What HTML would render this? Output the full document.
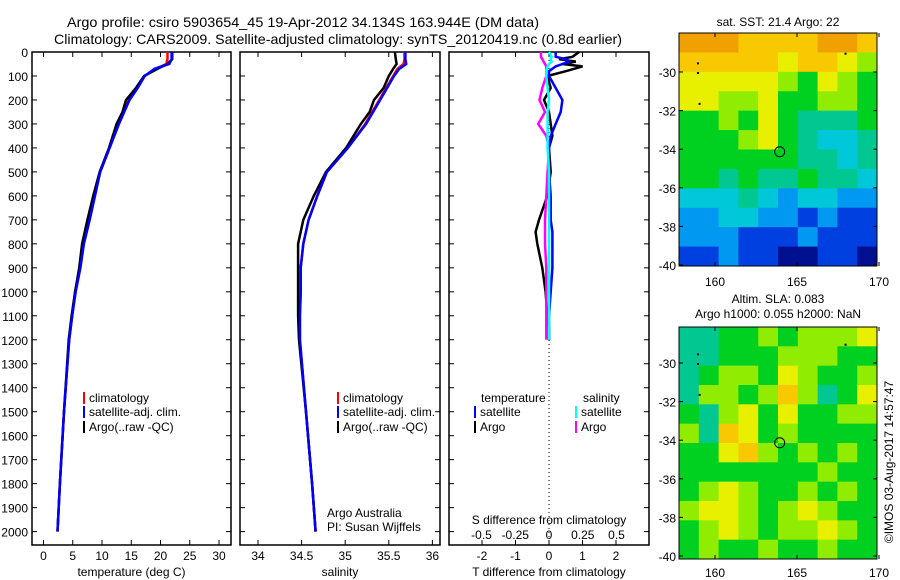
<!DOCTYPE html>
<html><head><meta charset="utf-8"><style>
html,body{margin:0;padding:0;background:#fff;}
svg{display:block;font-family:"Liberation Sans",sans-serif;}
</style></head><body>
<svg id="fig" width="900" height="580" viewBox="0 0 900 580" xmlns="http://www.w3.org/2000/svg">
<rect width="900" height="580" fill="#fff"/>
<text x="67" y="27" font-size="14" textLength="472" lengthAdjust="spacingAndGlyphs">Argo profile: csiro 5903654_45 19-Apr-2012 34.134S 163.944E (DM data)</text>
<text x="54" y="44" font-size="14" textLength="568" lengthAdjust="spacingAndGlyphs">Climatology: CARS2009. Satellite-adjusted climatology: synTS_20120419.nc (0.8d earlier)</text>
<g id="plots"></g>
</svg>
<script>
// ---- data ----
const depths = [0,30,50,70,100,150,200,250,300,400,500,600,700,800,900,1000,1100,1200,1500,1800,2000];
const tempArgo = [22.0,22.0,21.2,19.5,17.2,15.8,14.1,13.5,12.5,11.2,9.6,8.5,7.5,6.6,6.1,5.4,4.8,4.3,3.5,2.8,2.4];
const tempClim = [21.2,21.2,21.0,19.2,17.3,16.0,14.6,13.7,12.8,11.3,9.7,8.7,7.8,6.8,6.2,5.4,4.9,4.4,3.5,2.8,2.4];
const tempSat  = [21.9,21.9,21.5,19.0,17.3,16.1,14.7,13.8,12.9,11.3,9.7,8.8,7.9,6.9,6.3,5.5,4.9,4.4,3.5,2.8,2.4];
const salArgo = [35.57,35.58,35.59,35.55,35.50,35.44,35.33,35.28,35.18,35.01,34.78,34.64,34.52,34.46,34.46,34.46,34.46,34.47,34.55,34.62,34.66];
const salClim = [35.68,35.68,35.67,35.60,35.55,35.47,35.39,35.31,35.23,35.03,34.79,34.68,34.58,34.52,34.49,34.49,34.48,34.48,34.55,34.62,34.66];
const salSat  = [35.69,35.69,35.70,35.62,35.56,35.48,35.40,35.32,35.24,35.03,34.79,34.68,34.58,34.52,34.49,34.49,34.48,34.48,34.55,34.62,34.66];
const dDepths = [0,20,30,40,50,60,80,100,150,200,250,300,350,400,500,600,700,750,800,900,1000,1100,1150,1200];
const dTArgo = [0.9,0.7,0.3,0.8,0.4,1.0,0.5,-0.05,0.05,-0.15,0.0,0.05,0.1,0.0,0.05,-0.05,-0.3,-0.4,-0.35,-0.2,-0.1,-0.05,0.0,0.0];
const dTSat  = [0.2,0.2,0.5,0.6,0.4,0.2,0.0,0.0,0.2,0.4,0.35,0.2,0.05,0.0,0.0,0.05,0.05,0.1,0.1,0.1,0.05,0.0,0.0,0.0];
const dSArgo = [-0.06,-0.06,-0.05,-0.04,-0.03,-0.02,-0.02,-0.02,-0.05,-0.07,-0.03,-0.08,-0.02,0.0,-0.01,-0.02,-0.03,-0.03,-0.03,-0.02,-0.02,-0.02,-0.02,-0.02];
const dSSat  = [0.0,0.02,0.01,0.02,0.0,-0.01,-0.02,-0.02,-0.01,0.0,-0.01,-0.01,-0.01,-0.01,0.0,0.0,0.0,0.0,0.0,0.0,0.0,0.0,0.0,0.0];
const depthTicks = [0,100,200,300,400,500,600,700,800,900,1000,1100,1200,1300,1400,1500,1600,1700,1800,1900,2000];
const tempTicks = [0,5,10,15,20,25,30];
const salTicks = [34,34.5,35,35.5,36];
const tdTicks = [-2,-1,0,1,2];
const sdTicks = [-0.5,-0.25,0,0.25,0.5];
const sstGrid = [
[9,9,9,8,8,8,8,9,9,8],[8,8,8,8,8,7,8,8,7,6],[7,7,7,7,7,6,5,7,6,5],[7,7,6,6,7,5,5,6,6,5],
[5,5,6,5,7,5,4,4,4,5],[5,5,5,6,7,5,4,3,3,4],[5,5,5,5,5,5,4,4,3,4],[5,5,4,5,4,4,5,4,4,3],
[3,3,3,4,3,2,3,3,2,2],[2,2,3,3,2,2,1,2,1,1],[2,2,2,1,1,1,2,1,1,1],[1,1,2,1,1,0,0,1,1,0]];
const slaGrid = [
[4,4,5,5,6,5,6,6,6,7],[4,4,5,5,5,6,6,6,5,5],[4,5,6,6,5,7,6,5,5,6],[4,6,6,5,6,8,6,4,5,7],
[5,4,6,7,5,7,5,5,6,6],[6,4,8,7,5,6,5,5,5,5],[5,5,7,8,6,5,6,5,6,5],[5,5,5,5,5,5,5,6,5,5],
[5,6,7,6,5,5,6,5,6,5],[6,7,7,6,5,6,7,6,5,5],[5,6,7,6,5,6,6,7,6,5],[5,6,5,5,6,5,5,6,5,5]];
const latTicks = [-30,-32,-34,-36,-38,-40];
const lonTicks = [160,165,170];
const colormap = ['#001090','#0040e0','#0098f0','#00c8d8','#00c890','#00d020','#90ec00','#e8f000','#f8c800','#f0a000'];

const NS='http://www.w3.org/2000/svg';
const G=document.getElementById('plots');
function el(tag,attrs,parent){const e=document.createElementNS(NS,tag);for(const k in attrs)e.setAttribute(k,attrs[k]);(parent||G).appendChild(e);return e;}
function txt(x,y,s,size,anchor,parent){const t=el('text',{x:x,y:y,'font-size':size||12,'text-anchor':anchor||'start'},parent);t.textContent=s;return t;}

const yD = d => 52 + d*0.2398;
const pTop=52,pBot=545;
const panels=[
 {name:'temperature',x0:32,x1:231,f:v=>43.5+v*5.85,ticks:tempTicks,label:'temperature (deg C)'},
 {name:'salinity',x0:240,x1:440,f:v=>258+(v-34)*87.2,ticks:salTicks,label:'salinity'},
 {name:'difference',x0:449,x1:649,f:v=>549+v*33.5,ticks:tdTicks,label:'T difference from climatology'}
];
const fS = v=>549+v*135;
panels.forEach((p,i)=>{
  const g=el('g',{});
  
  
  const r=el('rect',{x:p.x0,y:pTop,width:p.x1-p.x0,height:pBot-pTop,fill:'none',stroke:'#000','stroke-width':1.5},g);
  
  
  p.ticks.forEach(t=>{const x=p.f(t);
    el('line',{x1:x,y1:pBot,x2:x,y2:pBot-5,stroke:'#000'},g);
    el('line',{x1:x,y1:pTop,x2:x,y2:pTop+5,stroke:'#000'},g);
    const l=txt(x,560,String(t),12,'middle',g);
    
    
  });
  depthTicks.forEach(d=>{const y=yD(d);
    el('line',{x1:p.x0,y1:y,x2:p.x0+5,y2:y,stroke:'#000'},g);
    el('line',{x1:p.x1,y1:y,x2:p.x1-5,y2:y,stroke:'#000'},g);
    if(i===0){const l=txt(28,y+5,String(d),12,'end',g);
      
      }
  });
  const xl=txt((p.x0+p.x1)/2,576,p.label,12,'middle',g);
  
  
});

function line(xs,ds,fx,color,w,name){
  const pts=xs.map((v,k)=>fx(v).toFixed(1)+','+yD(ds[k]).toFixed(1)).join(' ');
  const pl=el('polyline',{points:pts,fill:'none',stroke:color,'stroke-width':w||2.5,'stroke-linejoin':'miter'});
  
  
}
const pT=panels[0].f,pS=panels[1].f,pD=panels[2].f;
line(tempClim,depths,pT,'#f00',2.5,'temp-climatology-line');
line(tempArgo,depths,pT,'#000',2.5,'temp-argo-line');
line(tempSat,depths,pT,'#00f',2.5,'temp-satellite-line');
line(salClim,depths,pS,'#f00',2.5,'sal-climatology-line');
line(salArgo,depths,pS,'#000',2.5,'sal-argo-line');
line(salSat,depths,pS,'#00f',2.5,'sal-satellite-line');
const zl=el('line',{x1:549,y1:pTop,x2:549,y2:pBot,stroke:'#000','stroke-dasharray':'1,3'});


line(dTArgo,dDepths,pD,'#000',2.5,'tdiff-argo-line');
line(dSArgo,dDepths,fS,'#f0f',2.5,'sdiff-argo-line');
line(dTSat,dDepths,pD,'#00f',2.5,'tdiff-satellite-line');
line(dSSat,dDepths,fS,'#0ff',2.5,'sdiff-satellite-line');
sdTicks.forEach(t=>{const l=txt(fS(t),539,String(t),12,'middle');
  
  });
const st=txt(549,524,'S difference from climatology',12,'middle');



function legendEntry(x,y,color,label,name){
  const g=el('g',{});
  
  
  el('rect',{x:x,y:y-10,width:2,height:12,fill:color},g);
  txt(x+6,y,label,12,'start',g);
}
[[83,'temp'],[337,'sal']].forEach(([x,n])=>{
  legendEntry(x,402,'#f00','climatology',n+'-legend-climatology');
  legendEntry(x,416,'#00f','satellite-adj. clim.',n+'-legend-satellite');
  legendEntry(x,431,'#000','Argo(..raw -QC)',n+'-legend-argo');
});
const lt=txt(481,402,'temperature',12,'start');
const ls=txt(583,402,'salinity',12,'start');
legendEntry(474,416,'#00f','satellite','diff-legend-t-satellite');
legendEntry(474,431,'#000','Argo','diff-legend-t-argo');
legendEntry(575,416,'#0ff','satellite','diff-legend-s-satellite');
legendEntry(575,431,'#f0f','Argo','diff-legend-s-argo');
const a1=txt(327,517,'Argo Australia',12);
const a2=txt(327,531,'PI: Susan Wijffels',12);

function drawMap(grid,x0,y0,x1,y1,name,ly0,ly1,xlabY){
  const g=el('g',{});
  
  
  const rows=grid.length,cols=grid[0].length,cw=(x1-x0)/cols,ch=(y1-y0)/rows;
  grid.forEach((row,r)=>row.forEach((v,c)=>{
    const cell=el('rect',{x:x0+c*cw,y:y0+r*ch,width:cw+0.5,height:ch+0.5,fill:colormap[v]},g);
    
    
  }));
  el('rect',{x:x0,y:y0,width:x1-x0,height:y1-y0,fill:'none',stroke:'#000','stroke-width':1},g);
  const lat=v=>ly0+(v-(-30))*(ly1-ly0)/(-10);
  const lon=v=>715+(v-160)*16.4;
  latTicks.forEach(t=>{const y=lat(t);
    el('line',{x1:x0,y1:y,x2:x0+4,y2:y,stroke:'#000'},g);
    el('line',{x1:x1,y1:y,x2:x1-4,y2:y,stroke:'#000'},g);
    txt(x0-3,y+5,String(t),12,'end',g);});
  lonTicks.forEach(t=>{const x=lon(t);
    el('line',{x1:x,y1:y1,x2:x,y2:y1-4,stroke:'#000'},g);
    el('line',{x1:x,y1:y0,x2:x,y2:y0+4,stroke:'#000'},g);
    txt(x,xlabY,String(t),12,'middle',g);});
  const mk=el('circle',{cx:lon(163.944),cy:lat(-34.134),r:5,fill:'none',stroke:'#000','stroke-width':1},g);
  
  
  [[158.9,-29.5],[158.9,-30],[159,-31.6],[167.9,-29]].forEach(([lo,la])=>el('rect',{x:lon(lo),y:lat(la),width:2,height:2,fill:'#000'},g));
}
drawMap(sstGrid,679,33,877,266,'sst-map',72,265,286);
drawMap(slaGrid,679,327,877,559,'sla-map',363,556,577);
const t1=txt(778,26,'sat. SST: 21.4  Argo: 22',12,'middle');
const t2=txt(778,303,'Altim. SLA: 0.083',12,'middle');
const t3=txt(778,318,'Argo h1000: 0.055 h2000: NaN',12,'middle');
const cp=txt(0,0,'©IMOS 03-Aug-2017 14:57:47',12,'middle');
cp.setAttribute('transform','translate(893,462) rotate(-90)');


</script>
</body></html>
